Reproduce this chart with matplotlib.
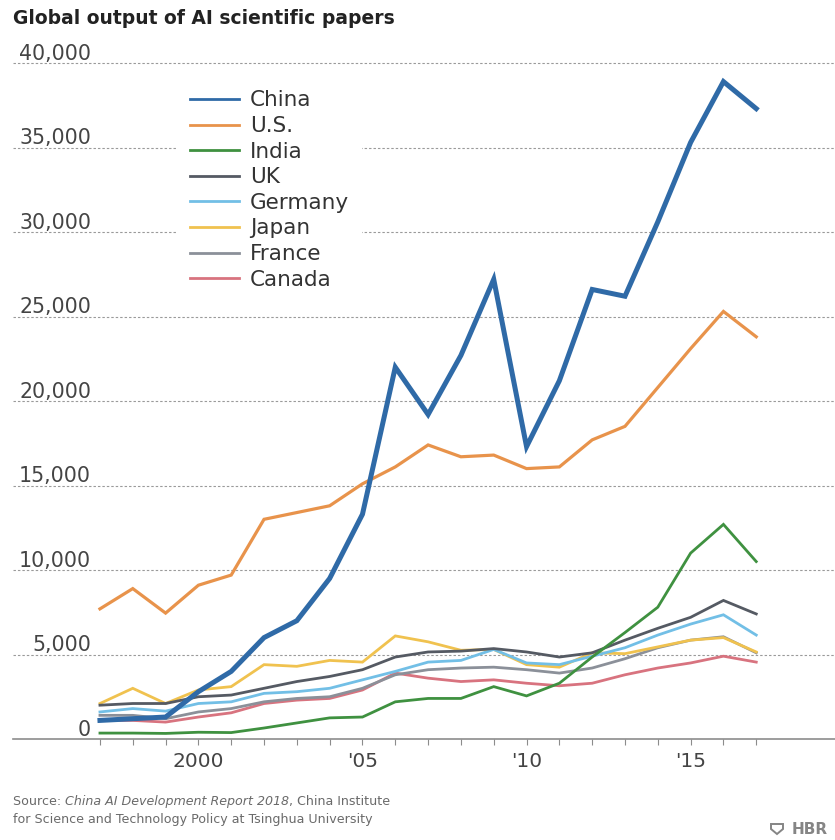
import matplotlib.pyplot as plt
import matplotlib.transforms as mtransforms
from matplotlib.patches import Polygon

# yearly counts of AI papers, 1997-2017
years = list(range(1997, 2018))
china = [1100, 1200, 1300, 2800, 4000, 6000, 7000, 9500, 13300, 22000, 19200,
         22700, 27200, 17300, 21200, 26600, 26200, 30600, 35300, 38900, 37300]
us = [7700, 8900, 7450, 9100, 9700, 13000, 13400, 13800, 15100, 16100, 17400,
      16700, 16800, 16000, 16100, 17700, 18500, 20800, 23100, 25300, 23800]
india = [350, 350, 330, 400, 380, 650, 950, 1250, 1300, 2200, 2400,
         2400, 3100, 2550, 3300, 4850, 6300, 7800, 11000, 12700, 10500]
uk = [2000, 2100, 2100, 2500, 2600, 3000, 3400, 3700, 4100, 4850, 5150,
      5200, 5350, 5150, 4850, 5100, 5850, 6550, 7200, 8200, 7400]
germany = [1600, 1800, 1650, 2100, 2200, 2700, 2800, 3000, 3500, 4000, 4550,
           4650, 5300, 4500, 4400, 4900, 5400, 6150, 6800, 7350, 6150]
japan = [2100, 3000, 2100, 2900, 3100, 4400, 4300, 4650, 4550, 6100, 5750,
         5250, 5300, 4400, 4250, 5100, 5050, 5450, 5850, 6000, 5150]
france = [1400, 1400, 1200, 1600, 1800, 2200, 2400, 2500, 3000, 3800, 4100,
          4200, 4250, 4100, 3900, 4200, 4750, 5400, 5850, 6050, 5100]
canada = [1100, 1100, 1000, 1300, 1550, 2100, 2300, 2400, 2900, 3900, 3600,
          3400, 3500, 3300, 3150, 3300, 3800, 4200, 4500, 4900, 4550]

countries = ['China', 'U.S.', 'India', 'UK', 'Germany', 'Japan', 'France', 'Canada']
series = [china, us, india, uk, germany, japan, france, canada]
colors = ['#2f6aa7', '#e8934b', '#3f9140', '#555a63',
          '#72bfe6', '#f0c24f', '#8b9099', '#d8737f']
widths = [3.6, 2.3, 2.0, 2.0, 2.0, 2.0, 2.0, 2.0]

yticks = [0, 5000, 10000, 15000, 20000, 25000, 30000, 35000, 40000]
xticks = [2000, 2005, 2010, 2015]
xticklabels = ['2000', "'05", "'10", "'15"]

plt.rcParams['font.family'] = 'DejaVu Sans'

fig = plt.figure(figsize=(8.35, 8.4), dpi=100)
ax = fig.add_axes([13 / 835, 1 - 739 / 840, 1 - 13 / 835, (739 - 50) / 840])

for i in range(len(series)):
    ax.plot(years, series[i], color=colors[i], lw=widths[i], label=countries[i],
            solid_joinstyle='miter', zorder=10 - i)

ax.set_xlim(1994.35, 2019.4)
ax.set_ylim(0, 40770)

# dashed horizontal guides, the zero line is drawn solid as the axis
for v in yticks[1:]:
    ax.axhline(v, color='#9a9a9a', lw=0.8, dashes=(2.2, 1.8), zorder=0)

for s in ['top', 'right', 'left']:
    ax.spines[s].set_visible(False)
ax.spines['bottom'].set_color('#8c8c8c')
ax.spines['bottom'].set_linewidth(1.2)

ax.set_xticks(years, minor=True)
ax.set_xticks(xticks)
ax.set_xticklabels(xticklabels)
ax.tick_params(axis='x', which='both', direction='out', length=4.5, width=0.8,
               color='#8c8c8c')
ax.tick_params(axis='x', which='major', labelsize=14.5, labelcolor='#444444', pad=5)
ax.set_yticks([])

# y labels sit just above their gridline, right aligned
trans = mtransforms.blended_transform_factory(ax.transAxes, ax.transData)
for v in yticks:
    ax.annotate('{:,}'.format(v), xy=(0.0949, v), xycoords=trans,
                xytext=(0, 2.5), textcoords='offset points',
                ha='right', va='baseline', fontsize=14.8, color='#444444')

leg = ax.legend(loc='upper left', bbox_to_anchor=(0.1995, 0.96), fontsize=15.5,
                frameon=True, fancybox=False, borderaxespad=0, borderpad=0.6,
                handlelength=2.3, handletextpad=0.5, labelspacing=0.26)
leg.get_frame().set_facecolor('white')
leg.get_frame().set_edgecolor('none')
leg.get_frame().set_alpha(1)
leg.set_zorder(20)
for h in leg.get_lines():
    h.set_linewidth(2.0)
for t in leg.get_texts():
    t.set_color('#333333')

fig.text(13 / 835, 1 - 18 / 840, 'Global output of AI scientific papers',
         fontsize=13.5, fontweight='bold', color='#222222', va='center', ha='left')

# source note, title of the report in italics
src_size = 9.1
s1 = fig.text(13 / 835, 1 - 805 / 840, 'Source: ', fontsize=src_size,
              color='#6a6a6a', va='baseline')
s2 = fig.text(0, 0, 'China AI Development Report 2018', fontsize=src_size,
              color='#6a6a6a', style='italic', va='baseline')
s3 = fig.text(0, 0, ', China Institute', fontsize=src_size, color='#6a6a6a',
              va='baseline')
fig.text(13 / 835, 1 - 823 / 840,
         'for Science and Technology Policy at Tsinghua University',
         fontsize=src_size, color='#6a6a6a', va='baseline')

# HBR mark: little shield plus letters, running off the right edge
fig.text(792 / 835, 1 - 834 / 840, 'HBR', fontsize=11, fontweight='bold',
         color='#858585', va='baseline')
shield = [(771, 824), (783, 824), (783, 829), (777, 834), (771, 829)]
fig.patches.append(Polygon([(x / 835, 1 - y / 840) for x, y in shield], closed=True,
                           fill=False, edgecolor='#858585', lw=1.4,
                           transform=fig.transFigure, figure=fig))

fig.canvas.draw()
r = fig.canvas.get_renderer()
bb = s1.get_window_extent(r)
s2.set_position((bb.x1 / fig.bbox.width, s1.get_position()[1]))
bb = s2.get_window_extent(r)
s3.set_position((bb.x1 / fig.bbox.width, s1.get_position()[1]))

fig.savefig('out.png', dpi=100)
